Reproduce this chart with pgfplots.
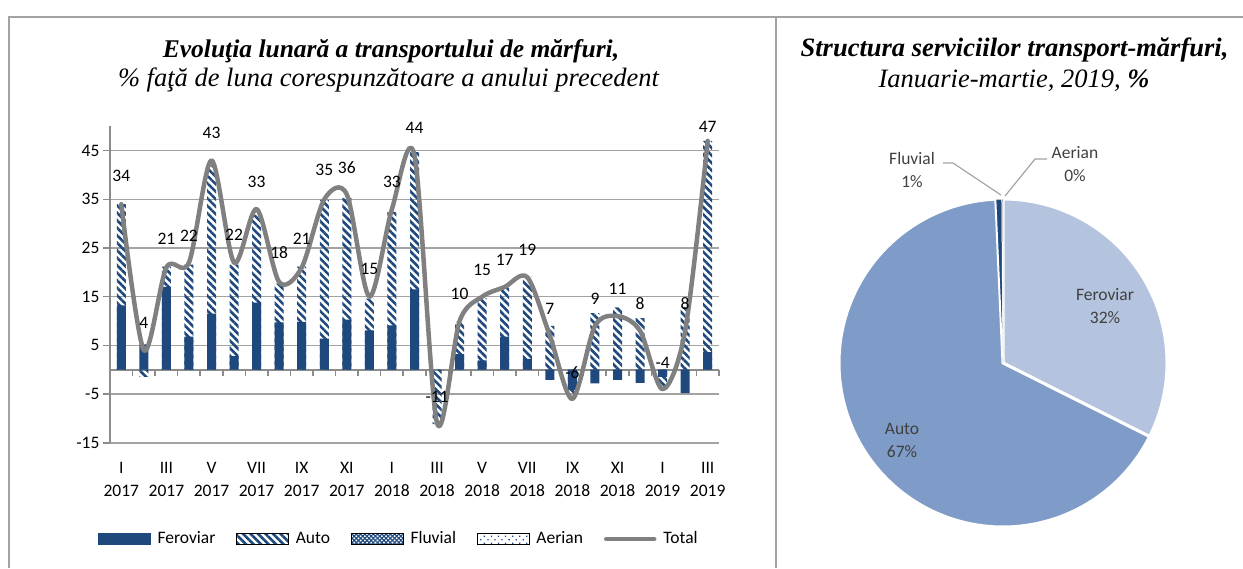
\documentclass[border=0pt]{standalone}
\usepackage{fontspec}
\setmainfont{Liberation Serif}
\newfontfamily\calfont{Carlito}
\usepackage{pgfplots}
\pgfplotsset{compat=1.18}
\usepackage{pgfplotstable}
\usetikzlibrary{patterns.meta}

\definecolor{fblue}{HTML}{1F497D}
\definecolor{tgray}{HTML}{808080}
\definecolor{ggray}{HTML}{A3A3A3}
\definecolor{agray}{HTML}{8C8C8C}
\definecolor{pF}{HTML}{B4C3DE}
\definecolor{pA}{HTML}{7F9CC8}
\definecolor{lbl}{HTML}{404040}

\newcommand{\lf}{\calfont\fontsize{17.5}{23}\selectfont}

% month index, Feroviar, Auto, Fluvial, Aerian, Total (%), label offset
\pgfplotstableread{
i F A Fl Ae T dy
0 13.2 20.8 0 0 34 28
1 5.2 -1.5 0 0 4 27
2 17.0 4.2 0 0 21 29
3 6.8 14.8 0 0 22 27
4 11.5 30.5 0 0 43 28
5 2.8 18.8 0 0 22 28
6 13.8 18.0 0 0 33 27
7 9.7 8.0 0 0 18 29
8 9.8 11.4 0 0 21 29
9 6.4 28.5 0 0 35 29
10 10.3 25.0 0 0 36 27
11 8.1 6.5 0 0 15 28
12 9.1 23.3 0 0 33 27
13 16.5 28.2 0 0 44 28
14 0.0 -11.2 0 0 -11 26
15 3.2 6.7 0 0 10 27
16 1.9 12.8 0 0 15 27
17 6.8 10.1 0 0 17 27
18 2.2 16.9 0 0 19 27
19 -2.1 9.0 0 0 7 27
20 -4.2 -1.1 0 0 -6 26
21 -2.8 11.6 0 0 9 27
22 -2.1 12.8 0 0 11 27
23 -2.7 10.6 0 0 8 27
24 -1.5 -2.0 0 0 -4 26
25 -4.8 12.9 0 0 8 27
26 3.6 43.4 0 0 47 14
}\monthly

\begin{document}
\begin{tikzpicture}
\path[use as bounding box] (0pt,0pt) rectangle (1243pt,-568pt);
\draw[ggray, line width=1.6pt] (9pt,-568pt) -- (9pt,-17pt) -- (1243pt,-17pt);
\draw[ggray, line width=1.6pt] (776pt,-17pt) -- (776pt,-568pt);

% titles
\node[anchor=base, font=\fontsize{25.5}{28}\selectfont\bfseries\itshape] at (391pt,-57pt) {Evoluţia lunară a transportului de mărfuri,};
\node[anchor=base, font=\fontsize{26.5}{28}\selectfont\itshape] at (388.5pt,-86pt) {\% faţă de luna corespunzătoare a anului precedent};
\node[anchor=base, font=\fontsize{26.5}{28}\selectfont\bfseries\itshape] at (1014.5pt,-56pt) {Structura serviciilor transport-mărfuri,};
\node[anchor=base, font=\fontsize{26.5}{28}\selectfont\itshape] at (1014pt,-87pt) {Ianuarie-martie, 2019, \textbf{\%}};

\begin{axis}[
  scale only axis, width=609pt, height=316.4pt,
  at={(110pt,-442.7pt)}, anchor=south west,
  xmin=-0.5, xmax=26.5, ymin=-15, ymax=50,
  axis lines*=left,
  y axis line style={agray, line width=2pt},
  x axis line style={ggray, line width=1.6pt},
  ytick={-15,-5,5,15,25,35,45},
  yticklabels={-15,-5,5,15,25,35,45},
  ymajorgrids, major grid style={ggray, line width=1.6pt},
  extra y ticks={0}, extra y tick labels={},
  extra y tick style={ymajorgrids, major grid style={agray, line width=2pt}, major tick length=0pt},
  tick align=outside, major tick length=7pt,
  y tick style={agray, line width=1.6pt},
  xtick={0,2,...,26}, x tick style={draw=none},
  xticklabels={I\\2017,III\\2017,V\\2017,VII\\2017,IX\\2017,XI\\2017,I\\2018,III\\2018,V\\2018,VII\\2018,IX\\2018,XI\\2018,I\\2019,III\\2019},
  tick label style={font=\lf},
  xticklabel style={align=center, yshift=-9pt},
  clip=false,
  legend columns=5,
  legend style={draw=none, font=\lf, at={(0.4745,-0.3044)}, anchor=center,
    nodes={text height=12pt, text depth=4pt},
    /tikz/every odd column/.append style={column sep=5pt},
    /tikz/every even column/.append style={column sep=19pt}},
]
% Auto (drawn from zero to the stacked top of its side)
\addplot[ybar, bar width=9pt, bar shift=0pt, draw=none, forget plot,
  pattern={Lines[angle=-45,distance=5.3pt,line width=2.6pt]}, pattern color=fblue]
  table[x=i, y expr={ifthenelse(\thisrow{F}*\thisrow{A}>0, \thisrow{F}+\thisrow{A}, \thisrow{A})}] \monthly;
% Feroviar
\addplot[ybar, bar width=9pt, bar shift=0pt, draw=none, fill=fblue, forget plot]
  table[x=i, y=F] \monthly;
% Fluvial, Aerian (about zero)
\addplot[ybar, bar width=9pt, bar shift=0pt, draw=none, forget plot,
  pattern={Hatch[angle=45,distance=3pt,line width=1.2pt]}, pattern color=fblue]
  table[x=i, y=Fl] \monthly;
\addplot[ybar, bar width=9pt, bar shift=0pt, draw=none, forget plot,
  pattern={Dots[distance=5pt,radius=0.9pt,angle=45]}, pattern color=fblue]
  table[x=i, y=Ae] \monthly;
% zero line ticks
\pgfplotsinvokeforeach{0,...,27}{\draw[agray, line width=1.6pt] (axis cs:#1-0.5,0) -- ++(0pt,-6pt);}
% Total
\addplot[tgray, line width=4.5pt, smooth, line cap=round, line join=round, forget plot,
  nodes near coords, point meta=explicit symbolic,
  visualization depends on={\thisrow{dy} \as \dy},
  every node near coord/.style={font=\lf, text=black, anchor=center, yshift=\dy pt}]
  table[x=i, y=T, meta=T] \monthly;

\addlegendimage{legend image code/.code={\fill[fblue] (0pt,-5.5pt) rectangle (52pt,5.5pt);}}
\addlegendentry{Feroviar}
\addlegendimage{legend image code/.code={\path[pattern={Lines[angle=-45,distance=5.3pt,line width=2.6pt]}, pattern color=fblue] (0pt,-5.5pt) rectangle (52pt,5.5pt);}}
\addlegendentry{Auto}
\addlegendimage{legend image code/.code={\path[pattern={Hatch[angle=45,distance=3pt,line width=1.2pt]}, pattern color=fblue] (0pt,-5.5pt) rectangle (52pt,5.5pt);}}
\addlegendentry{Fluvial}
\addlegendimage{legend image code/.code={\path[pattern={Dots[distance=5pt,radius=0.9pt,angle=45]}, pattern color=fblue] (0pt,-5.5pt) rectangle (52pt,5.5pt);}}
\addlegendentry{Aerian}
\addlegendimage{legend image code/.code={\draw[tgray, line width=4.5pt, line cap=round] (2pt,0pt) -- (50pt,0pt);}}
\addlegendentry{Total}
\end{axis}

% pie: Feroviar 32.4, Auto 66.9, Fluvial 0.6, Aerian 0.1 (%), clockwise from 12 o'clock
\begin{axis}[at={(1003pt,-363pt)}, anchor=center, scale only axis, width=328pt, height=328pt,
  xmin=-1, xmax=1, ymin=-1, ymax=1, hide axis, clip=false]
\addplot[fill=pF, draw=white, line width=3pt, domain=-26.64:90, samples=120, variable=\t]
  ({cos(\t)},{sin(\t)}) -- (axis cs:0,0) -- cycle;
\addplot[fill=pA, draw=white, line width=3pt, domain=-267.48:-26.64, samples=200, variable=\t]
  ({cos(\t)},{sin(\t)}) -- (axis cs:0,0) -- cycle;
\addplot[fill=fblue, draw=white, line width=1pt, domain=-269.64:-267.48, samples=5, variable=\t]
  ({cos(\t)},{sin(\t)}) -- (axis cs:0,0) -- cycle;
\addplot[fill=tgray, draw=white, line width=0.5pt, domain=-270:-269.64, samples=3, variable=\t]
  ({cos(\t)},{sin(\t)}) -- (axis cs:0,0) -- cycle;
\end{axis}

\draw[ggray, line width=1.2pt] (943pt,-163pt) -- (953pt,-163pt) -- (1001pt,-195pt);
\draw[ggray, line width=1.2pt] (1047pt,-159pt) -- (1035pt,-159pt) -- (1005pt,-196pt);
\node[align=center, font=\lf, text=lbl] at (1105pt,-306.5pt) {Feroviar\\32\%};
\node[align=center, font=\lf, text=lbl] at (902pt,-440.5pt) {Auto\\67\%};
\node[align=center, font=\lf, text=lbl] at (912pt,-170pt) {Fluvial\\1\%};
\node[align=center, font=\lf, text=lbl] at (1075pt,-164.5pt) {Aerian\\0\%};
\end{tikzpicture}
\end{document}
